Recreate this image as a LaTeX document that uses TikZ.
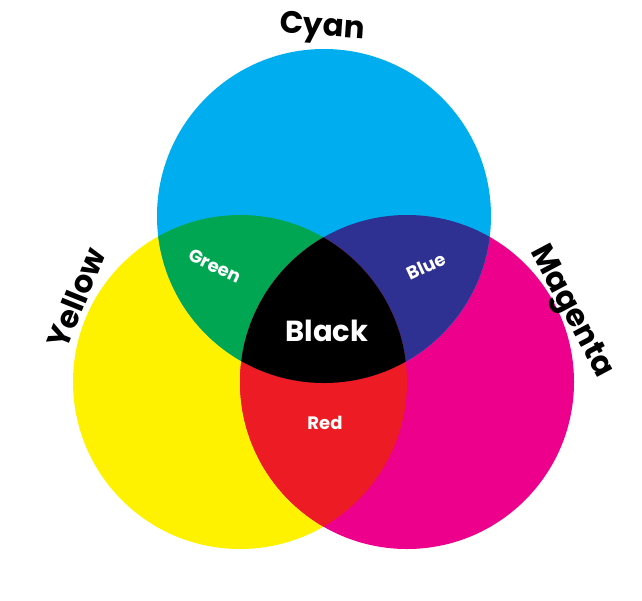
\documentclass[tikz,border=0pt]{standalone}
\usepackage{fontspec}
\setmainfont{Poppins}
\definecolor{cy}{HTML}{00AEEF}
\definecolor{ye}{HTML}{FFF200}
\definecolor{ma}{HTML}{EC008C}
\definecolor{gr}{HTML}{00A651}
\definecolor{bl}{HTML}{2E3192}
\definecolor{rd}{HTML}{ED1C24}
\begin{document}
\begin{tikzpicture}[x=1pt,y=-1pt,
  big/.style={font=\fontsize{31}{31}\selectfont\bfseries,text=black},
  small/.style={font=\fontsize{18}{18}\selectfont\bfseries,text=white}]
\useasboundingbox (0,0) rectangle (642,600);
\def\R{167}
\def\cyanc{(324,216) circle (\R)}
\def\yelc{(240,382) circle (\R)}
\def\magc{(407,382) circle (\R)}
\fill[ye] \yelc;
\fill[ma] \magc;
\fill[cy] \cyanc;
\begin{scope}\clip \cyanc; \fill[gr] \yelc; \end{scope}
\begin{scope}\clip \cyanc; \fill[bl] \magc; \end{scope}
\begin{scope}\clip \yelc; \fill[rd] \magc; \end{scope}
\begin{scope}\clip \cyanc; \clip \yelc; \fill[black] \magc; \end{scope}
\node[big,rotate=-4] (c) at (322,29) {Cyan};
\node[big,rotate=68] (y) at (76,298) {Yellow};
\node[big,rotate=-62] (m) at (570,312) {Magenta};
\node[small,rotate=-25] (g) at (215,266) {Green};
\node[small,rotate=25] (b) at (426,266) {Blue};
\node[font=\fontsize{29}{29}\selectfont\bfseries,text=white] (k) at (327,331) {Black};
\node[small] (r) at (325,423) {Red};
\end{tikzpicture}
\end{document}
